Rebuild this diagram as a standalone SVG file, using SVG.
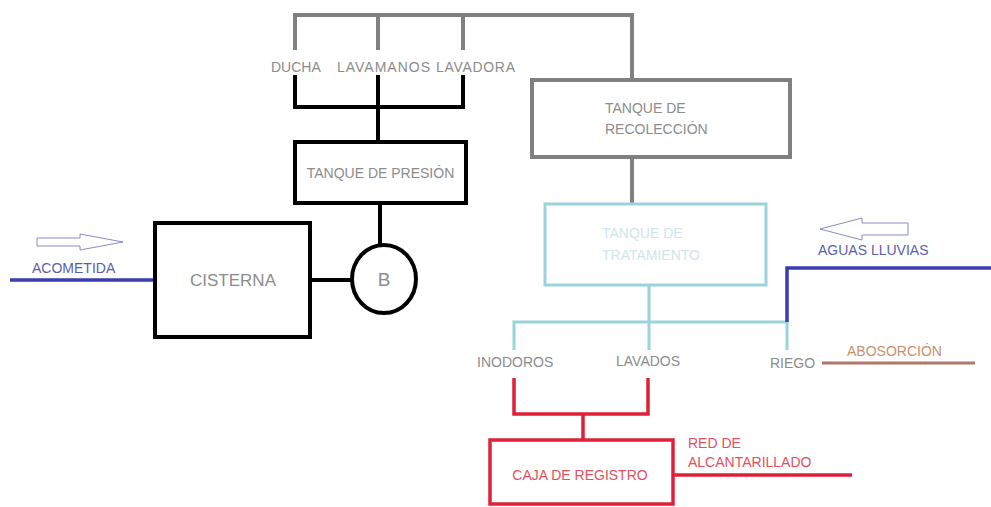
<svg xmlns="http://www.w3.org/2000/svg" width="991" height="507" viewBox="0 0 991 507">
<style>
text{font-family:"Liberation Sans",Arial,sans-serif;font-size:14px}
.g{fill:none;stroke:#808080;stroke-width:4}
.k{fill:none;stroke:#000;stroke-width:4}
.c{fill:none;stroke:#9ad3de;stroke-width:3}
.r{fill:none;stroke:#e0203a;stroke-width:3.5}
.b{fill:none;stroke:#3a3db0;stroke-width:3.5}
.ar{fill:#fff;stroke:#8a8ac8;stroke-width:1}
.tg{fill:#8c8c8c}
.tr{fill:#e4505c}
.tb{fill:#5a5eb0}
</style>
<rect width="991" height="507" fill="#fff"/>
<g id="connectors">
<path class="g" d="M295 50V15H632V80M378 15V50M463 15V50M632 157V205"/>
<path class="k" d="M295 75V107H463V75M378 75V107M378 107V142M380 203V245M310 280H352"/>
<path class="c" d="M649 285V322M514 350V322H787V350M649 322V350"/>
<path class="b" d="M10 280H153M787 322V268H991"/>
<path class="r" d="M514 378V414H648V378M583 414V440M673 475H852"/>
<path d="M822 363H975" fill="none" stroke="#b07868" stroke-width="3"/>
<path class="ar" d="M37 238H80V234L123 242L80 250V246H37Z"/>
<path class="ar" d="M908 223H862V218L820 229L862 240V235H908Z"/>
</g>
<g id="ducha"><text class="tg" x="271" y="72">DUCHA</text></g>
<g id="lavamanos"><text class="tg" x="337" y="72" textLength="93">LAVAMANOS</text></g>
<g id="lavadora"><text class="tg" x="436" y="72" textLength="79">LAVADORA</text></g>
<g id="tanque-presion">
<rect class="k" x="295" y="142" width="171" height="61"/>
<text class="tg" x="380.5" y="178" text-anchor="middle">TANQUE DE PRESIÓN</text>
</g>
<g id="cisterna">
<rect class="k" x="155" y="223" width="155" height="114"/>
<text class="tg" x="233" y="286" text-anchor="middle" style="font-size:17px">CISTERNA</text>
</g>
<g id="bomba">
<ellipse class="k" cx="384" cy="279" rx="32" ry="34"/>
<text class="tg" x="384" y="286" text-anchor="middle" style="font-size:19px">B</text>
</g>
<g id="acometida"><text class="tb" x="32" y="273">ACOMETIDA</text></g>
<g id="tanque-recoleccion">
<rect class="g" x="532" y="80" width="258" height="77"/>
<text class="tg" x="605" y="113">TANQUE DE</text>
<text class="tg" x="605" y="134">RECOLECCIÓN</text>
</g>
<g id="tanque-tratamiento">
<rect class="c" x="545" y="204" width="221" height="81"/>
<text x="602" y="238" fill="#cfe6ea">TANQUE DE</text>
<text x="602" y="260" fill="#cfe6ea">TRATAMIENTO</text>
</g>
<g id="aguas-lluvias"><text class="tb" x="818" y="255">AGUAS LLUVIAS</text></g>
<g id="inodoros"><text class="tg" x="477" y="367">INODOROS</text></g>
<g id="lavados"><text class="tg" x="616" y="366">LAVADOS</text></g>
<g id="riego"><text class="tg" x="770" y="368">RIEGO</text></g>
<g id="absorcion"><text x="847" y="356" fill="#c8906a">ABOSORCIÓN</text></g>
<g id="caja-registro">
<rect class="r" x="490" y="440" width="183" height="64"/>
<text class="tr" x="580" y="480" text-anchor="middle">CAJA DE REGISTRO</text>
</g>
<g id="red-alcantarillado">
<text class="tr" x="688" y="448">RED DE</text>
<text class="tr" x="688" y="467">ALCANTARILLADO</text>
</g>
</svg>
